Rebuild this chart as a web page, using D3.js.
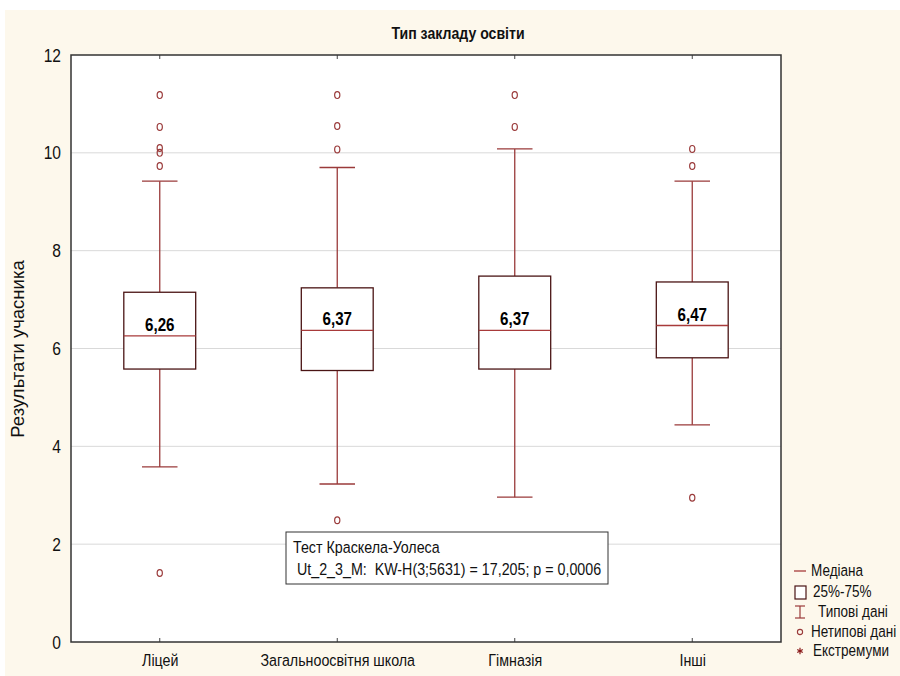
<!DOCTYPE html>
<html><head><meta charset="utf-8">
<script src="https://cdn.jsdelivr.net/npm/d3@7"></script>
<style>
html,body{margin:0;padding:0;background:#fff;}
text{font-family:"Liberation Sans",Arial,sans-serif;}
</style></head>
<body><svg id="c" width="900" height="676"></svg>
<script>
const categories = ["Ліцей","Загальноосвітня школа","Гімназія","Інші"];
const medians = [6.26,6.37,6.37,6.47];
const medianLabels = ["6,26","6,37","6,37","6,47"];
const q1 = [5.58,5.55,5.58,5.81];
const q3 = [7.15,7.24,7.48,7.36];
const whiskerLow = [3.58,3.23,2.96,4.44];
const whiskerHigh = [9.42,9.70,10.08,9.42];
const outliers = [[11.18,10.53,10.1,10.0,9.73,1.41],[11.18,10.55,10.07,2.49],[11.18,10.53],[10.08,9.73,2.95]];
const yTicks = [0,2,4,6,8,10,12];
const title = "Тип закладу освіти";
const yTitle = "Результати учасника";
const statLines = ["Тест Краскела-Уолеса"," Ut_2_3_M:  KW-H(3;5631) = 17,205; p = 0,0006"];
const legendItems = ["Медіана","25%-75%","Типові дані","Нетипові дані","Екстремуми"];

const K = 0.82; // horizontal condensing factor (Arial Narrow look)
function narrow(sel){
  sel.each(function(){
    const t = d3.select(this);
    const xv = +(t.attr("x")||0);
    t.attr("x", xv/K);
    const tr = t.attr("transform")||"";
    t.attr("transform", (tr+" scale("+K+",1)").trim());
  });
  return sel;
}

const svg = d3.select("#c");
const L=71,R=781,T=55,B=642;
const boxStroke="#4a1414", whisk="#9a3a3a", outl="#9a3a3a";

svg.append("rect").attr("x",5).attr("y",10).attr("width",895).attr("height",666).attr("fill","#fdf8ec");
svg.append("rect").attr("x",L).attr("y",T).attr("width",R-L).attr("height",B-T).attr("fill","#fff");

const x = d3.scalePoint().domain(categories).range([L,R]).padding(0.5);
const y = d3.scaleLinear().domain([0,12]).range([B,T]);
const step = x.step();
const boxW = step*0.405, capW = step*0.2;

// grid
svg.append("g").selectAll("line").data(yTicks.filter(d=>d>0&&d<12)).join("line")
  .attr("x1",L).attr("x2",R).attr("y1",d=>y(d)).attr("y2",d=>y(d))
  .attr("stroke","#d9d9d9").attr("stroke-width",1);

// y axis labels
const ya = svg.append("g").attr("transform",`translate(${L},0)`)
  .call(d3.axisLeft(y).tickValues(yTicks).tickSize(0).tickPadding(10).tickFormat(d3.format("d")));
ya.select(".domain").remove();
ya.selectAll("text").attr("font-size",19).attr("fill","#111").call(narrow);

// x axis labels
const xa = svg.append("g").attr("transform",`translate(0,${B})`)
  .call(d3.axisBottom(x).tickSize(0).tickPadding(12));
xa.select(".domain").remove();
xa.selectAll("text").attr("font-size",17.4).attr("fill","#111").call(narrow);

// inner ticks
const tk = svg.append("g");
categories.forEach(c=>{
  tk.append("line").attr("x1",x(c)).attr("x2",x(c)).attr("y1",T).attr("y2",T+4).attr("stroke","#444");
  tk.append("line").attr("x1",x(c)).attr("x2",x(c)).attr("y1",B).attr("y2",B-4).attr("stroke","#444");
});

// boxes
const g = svg.append("g");
categories.forEach((c,i)=>{
  const cx = x(c);
  g.append("line").attr("x1",cx).attr("x2",cx).attr("y1",y(whiskerHigh[i])).attr("y2",y(q3[i])).attr("stroke",whisk).attr("stroke-width",1.3);
  g.append("line").attr("x1",cx).attr("x2",cx).attr("y1",y(q1[i])).attr("y2",y(whiskerLow[i])).attr("stroke",whisk).attr("stroke-width",1.3);
  [whiskerHigh[i],whiskerLow[i]].forEach(v=>{
    g.append("line").attr("x1",cx-capW/2).attr("x2",cx+capW/2).attr("y1",y(v)).attr("y2",y(v)).attr("stroke",whisk).attr("stroke-width",1.3);
  });
  g.append("rect").attr("x",cx-boxW/2).attr("y",y(q3[i])).attr("width",boxW).attr("height",y(q1[i])-y(q3[i]))
    .attr("fill","#fff").attr("stroke",boxStroke).attr("stroke-width",1.3);
  g.append("line").attr("x1",cx-boxW/2).attr("x2",cx+boxW/2).attr("y1",y(medians[i])).attr("y2",y(medians[i])).attr("stroke","#a83a3a").attr("stroke-width",1.3);
  g.append("text").attr("x",cx).attr("y",y(medians[i])-5).attr("text-anchor","middle")
    .attr("font-size",18.5).attr("font-weight","bold").attr("fill","#000").text(medianLabels[i]).call(narrow);
  outliers[i].forEach(v=>{
    g.append("ellipse").attr("cx",cx).attr("cy",y(v)).attr("rx",2.6).attr("ry",3.4)
      .attr("fill","none").attr("stroke",outl).attr("stroke-width",1.2);
  });
});

// frame
svg.append("rect").attr("x",L).attr("y",T).attr("width",R-L).attr("height",B-T).attr("fill","none").attr("stroke","#333").attr("stroke-width",1.5);

// title
svg.append("text").attr("x",458).attr("y",39).attr("text-anchor","middle").attr("font-size",17.2).attr("font-weight","bold").attr("fill","#111").text(title).call(narrow);
svg.append("text").attr("transform","translate(24,349) rotate(-90)").attr("text-anchor","middle").attr("font-size",18.5).attr("fill","#111").text(yTitle);

// stats box
svg.append("rect").attr("x",286).attr("y",532).attr("width",322).attr("height",52).attr("fill","#fff").attr("stroke","#333").attr("stroke-width",1);
svg.append("text").attr("x",293).attr("y",553).attr("font-size",17.4).attr("fill","#111").text(statLines[0]).call(narrow);
svg.append("text").attr("x",293).attr("y",575).attr("font-size",17.4).attr("fill","#111").attr("xml:space","preserve").style("white-space","pre").text(statLines[1]).call(narrow);

// legend
const lg = svg.append("g");
const ly = [571,592,612,632,651];
const sx = 800;
lg.append("line").attr("x1",sx-6).attr("x2",sx+6).attr("y1",ly[0]).attr("y2",ly[0]).attr("stroke","#a83a3a").attr("stroke-width",1.3);
lg.append("rect").attr("x",sx-5).attr("y",ly[1]-6).attr("width",11).attr("height",13).attr("fill","#fff").attr("stroke",boxStroke).attr("stroke-width",1.2);
lg.append("line").attr("x1",sx).attr("x2",sx).attr("y1",ly[2]-6).attr("y2",ly[2]+6).attr("stroke",whisk).attr("stroke-width",1.2);
lg.append("line").attr("x1",sx-5).attr("x2",sx+5).attr("y1",ly[2]-6).attr("y2",ly[2]-6).attr("stroke",whisk).attr("stroke-width",1.2);
lg.append("line").attr("x1",sx-5).attr("x2",sx+5).attr("y1",ly[2]+6).attr("y2",ly[2]+6).attr("stroke",whisk).attr("stroke-width",1.2);
lg.append("circle").attr("cx",sx).attr("cy",ly[3]).attr("r",2.6).attr("fill","none").attr("stroke",outl).attr("stroke-width",1.1);
lg.append("path").attr("d",d3.symbol(d3.symbolAsterisk,28)()).attr("transform",`translate(${sx},${ly[4]})`).attr("stroke","#8b1a1a").attr("stroke-width",1.2);
const lx = [811,813,818,811,813];
legendItems.forEach((t,i)=>{
  lg.append("text").attr("x",lx[i]).attr("y",ly[i]+5).attr("font-size",16.5).attr("fill","#111").text(t).call(narrow);
});
</script></body></html>
